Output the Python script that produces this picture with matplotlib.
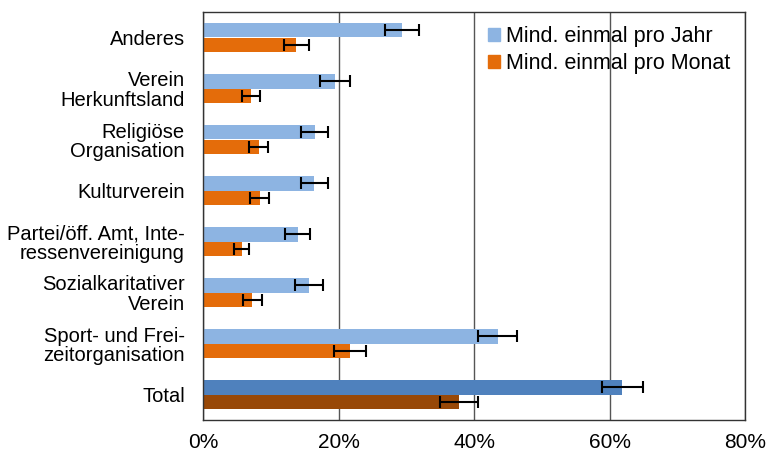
import matplotlib
matplotlib.use("Agg")
import matplotlib.pyplot as plt
from matplotlib.patches import Patch
import numpy as np

plt.rcParams['font.family'] = ['Liberation Sans', 'DejaVu Sans']

categories = ["Anderes", "Verein\nHerkunftsland", "Religiöse\nOrganisation", "Kulturverein",
              "Partei/öff. Amt, Inte-\nressenvereinigung", "Sozialkaritativer\nVerein",
              "Sport- und Frei-\nzeitorganisation", "Total"]
jahr = [29.4, 19.5, 16.5, 16.4, 14.0, 15.7, 43.5, 61.9]
jahr_err = [2.5, 2.2, 2.0, 2.0, 1.85, 2.05, 2.9, 3.0]
monat = [13.8, 7.1, 8.2, 8.4, 5.7, 7.3, 21.7, 37.8]
monat_err = [1.8, 1.3, 1.4, 1.4, 1.1, 1.4, 2.3, 2.75]
xticks = [0, 20, 40, 60, 80]
xticklabels = ["0%", "20%", "40%", "60%", "80%"]
series_names = ["Mind. einmal pro Jahr", "Mind. einmal pro Monat"]

c_jahr = "#8DB4E2"
c_monat = "#E46C0A"
c_jahr_total = "#4F81BD"
c_monat_total = "#984807"

fig = plt.figure(figsize=(7.68, 4.55), dpi=100)
ax = fig.add_axes([203/768, 1-420/455, (745-203)/768, (420-12)/455])

y = np.arange(len(categories))
h = 0.285
col_j = [c_jahr]*(len(categories)-1) + [c_jahr_total]
col_m = [c_monat]*(len(categories)-1) + [c_monat_total]

ax.set_axisbelow(True)
ax.grid(axis='x', color='#555555', linewidth=1.0)
ekw = dict(ecolor='black', elinewidth=1.5, capsize=4.5, capthick=1.5)
ax.barh(y - h/2, jahr, height=h, color=col_j, xerr=jahr_err, error_kw=ekw, zorder=2)
ax.barh(y + h/2, monat, height=h, color=col_m, xerr=monat_err, error_kw=ekw, zorder=2)

ax.set_xlim(0, 80)
ax.set_ylim(len(categories)-0.5, -0.5)
ax.set_xticks(xticks)
ax.set_xticklabels(xticklabels, fontsize=15)
ax.set_yticks(y)
ax.set_yticklabels(categories, fontsize=14.5, linespacing=1.05)
ax.tick_params(axis='both', length=0)
ax.tick_params(axis='y', pad=13)
ax.tick_params(axis='x', pad=9)
for s in ax.spines.values():
    s.set_color('#333333')
    s.set_linewidth(1.0)

handles = [Patch(color=c_jahr), Patch(color=c_monat)]
ax.legend(handles, series_names, loc='upper left', bbox_to_anchor=(0.5, 1.0),
          frameon=False, fontsize=15.5, handlelength=0.55, handleheight=0.55,
          handletextpad=0.3, labelspacing=0.3, borderaxespad=0.25)

fig.savefig("out.png", dpi=100)
